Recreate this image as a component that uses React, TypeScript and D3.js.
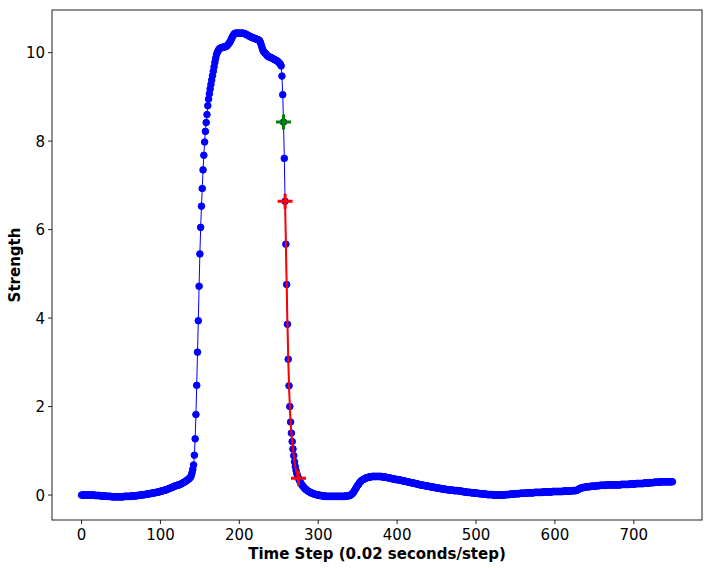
import * as d3 from 'd3'

// Strength per time step (0.02 s/step), one value per step from 0 to 749
const strength: number[] = [
  // 0
  0.00, 0.00, 0.00, 0.00, 0.00, 0.00, 0.00, 0.00, 0.00, 0.00,
  0.00, 0.00, 0.00, 0.00, 0.00, 0.00, 0.00, -0.01, -0.01, -0.01,
  -0.01, -0.01, -0.01, -0.01, -0.02, -0.02, -0.02, -0.02, -0.02, -0.02,
  -0.02, -0.03, -0.03, -0.03, -0.03, -0.03, -0.03, -0.03, -0.04, -0.04,
  -0.04, -0.04, -0.04, -0.04, -0.04, -0.04, -0.04, -0.04, -0.04, -0.04,
  // 50
  -0.04, -0.04, -0.04, -0.04, -0.03, -0.03, -0.03, -0.03, -0.03, -0.03,
  -0.03, -0.03, -0.03, -0.02, -0.02, -0.02, -0.02, -0.02, -0.02, -0.02,
  -0.01, -0.01, -0.01, -0.01, 0.00, 0.00, 0.00, 0.00, 0.01, 0.01,
  0.01, 0.01, 0.02, 0.02, 0.02, 0.03, 0.03, 0.03, 0.04, 0.04,
  0.04, 0.05, 0.05, 0.05, 0.06, 0.06, 0.06, 0.07, 0.07, 0.08,
  // 100
  0.08, 0.09, 0.09, 0.10, 0.10, 0.11, 0.11, 0.12, 0.12, 0.13,
  0.14, 0.15, 0.15, 0.16, 0.17, 0.18, 0.18, 0.19, 0.20, 0.21,
  0.21, 0.22, 0.22, 0.23, 0.23, 0.24, 0.25, 0.26, 0.27, 0.28,
  0.29, 0.30, 0.31, 0.32, 0.34, 0.35, 0.37, 0.38, 0.40, 0.44,
  0.50, 0.58, 0.68, 0.90, 1.27, 1.82, 2.48, 3.23, 3.94, 4.72,
  // 150
  5.45, 6.05, 6.53, 6.93, 7.35, 7.68, 7.98, 8.22, 8.42, 8.60,
  8.80, 8.95, 9.07, 9.18, 9.28, 9.38, 9.48, 9.58, 9.68, 9.78,
  9.87, 9.95, 10.00, 10.04, 10.07, 10.09, 10.10, 10.11, 10.12, 10.12,
  10.12, 10.13, 10.13, 10.14, 10.15, 10.17, 10.19, 10.21, 10.24, 10.27,
  10.31, 10.35, 10.38, 10.41, 10.43, 10.44, 10.44, 10.44, 10.44, 10.44,
  // 200
  10.44, 10.44, 10.44, 10.44, 10.44, 10.44, 10.43, 10.43, 10.42, 10.41,
  10.40, 10.39, 10.38, 10.37, 10.36, 10.35, 10.35, 10.34, 10.33, 10.32,
  10.32, 10.31, 10.30, 10.30, 10.29, 10.28, 10.26, 10.22, 10.16, 10.10,
  10.05, 10.02, 10.00, 9.98, 9.96, 9.94, 9.92, 9.91, 9.90, 9.90,
  9.89, 9.88, 9.87, 9.86, 9.85, 9.84, 9.83, 9.82, 9.81, 9.80,
  // 250
  9.78, 9.76, 9.74, 9.70, 9.47, 9.05, 8.43, 7.61, 6.64, 5.67,
  4.76, 3.86, 3.07, 2.47, 2.00, 1.65, 1.40, 1.21, 1.04, 0.89,
  0.75, 0.64, 0.55, 0.48, 0.42, 0.38, 0.34, 0.30, 0.27, 0.24,
  0.21, 0.19, 0.17, 0.15, 0.13, 0.12, 0.10, 0.09, 0.08, 0.07,
  0.06, 0.05, 0.04, 0.04, 0.03, 0.02, 0.02, 0.01, 0.01, 0.00,
  // 300
  0.00, 0.00, -0.01, -0.01, -0.01, -0.02, -0.02, -0.02, -0.02, -0.03,
  -0.03, -0.03, -0.03, -0.03, -0.03, -0.03, -0.03, -0.03, -0.03, -0.03,
  -0.03, -0.03, -0.03, -0.03, -0.03, -0.03, -0.03, -0.03, -0.03, -0.03,
  -0.03, -0.03, -0.03, -0.03, -0.03, -0.02, -0.02, -0.02, -0.02, -0.01,
  -0.01, 0.00, 0.01, 0.03, 0.05, 0.07, 0.10, 0.13, 0.16, 0.19,
  // 350
  0.22, 0.24, 0.27, 0.29, 0.31, 0.33, 0.34, 0.35, 0.36, 0.37,
  0.38, 0.39, 0.39, 0.40, 0.40, 0.41, 0.41, 0.41, 0.42, 0.42,
  0.42, 0.42, 0.42, 0.42, 0.42, 0.42, 0.42, 0.42, 0.42, 0.42,
  0.42, 0.41, 0.41, 0.41, 0.41, 0.40, 0.40, 0.40, 0.39, 0.39,
  0.39, 0.38, 0.38, 0.37, 0.37, 0.37, 0.36, 0.36, 0.35, 0.35,
  // 400
  0.35, 0.35, 0.34, 0.34, 0.34, 0.33, 0.33, 0.32, 0.32, 0.32,
  0.31, 0.31, 0.30, 0.30, 0.30, 0.29, 0.29, 0.28, 0.28, 0.28,
  0.27, 0.27, 0.26, 0.26, 0.26, 0.25, 0.25, 0.24, 0.24, 0.23,
  0.23, 0.23, 0.22, 0.22, 0.22, 0.21, 0.21, 0.21, 0.20, 0.20,
  0.20, 0.19, 0.19, 0.19, 0.18, 0.18, 0.18, 0.17, 0.17, 0.17,
  // 450
  0.16, 0.16, 0.16, 0.15, 0.15, 0.15, 0.14, 0.14, 0.14, 0.13,
  0.13, 0.13, 0.13, 0.12, 0.12, 0.12, 0.12, 0.11, 0.11, 0.11,
  0.11, 0.11, 0.10, 0.10, 0.10, 0.10, 0.10, 0.10, 0.10, 0.09,
  0.09, 0.09, 0.08, 0.08, 0.08, 0.07, 0.07, 0.07, 0.07, 0.06,
  0.06, 0.06, 0.06, 0.06, 0.05, 0.05, 0.05, 0.05, 0.05, 0.05,
  // 500
  0.04, 0.04, 0.04, 0.04, 0.03, 0.03, 0.03, 0.03, 0.03, 0.02,
  0.02, 0.02, 0.02, 0.02, 0.01, 0.01, 0.01, 0.01, 0.01, 0.01,
  0.01, 0.01, 0.00, 0.00, 0.00, 0.00, 0.00, 0.00, 0.00, 0.00,
  0.00, 0.00, 0.00, 0.00, 0.00, 0.00, 0.00, 0.01, 0.01, 0.01,
  0.01, 0.01, 0.01, 0.02, 0.02, 0.02, 0.02, 0.02, 0.02, 0.03,
  // 550
  0.03, 0.03, 0.03, 0.03, 0.03, 0.03, 0.04, 0.04, 0.04, 0.04,
  0.04, 0.04, 0.04, 0.04, 0.04, 0.05, 0.05, 0.05, 0.05, 0.05,
  0.05, 0.05, 0.05, 0.05, 0.06, 0.06, 0.06, 0.06, 0.06, 0.06,
  0.06, 0.06, 0.06, 0.06, 0.06, 0.07, 0.07, 0.07, 0.07, 0.07,
  0.07, 0.07, 0.07, 0.07, 0.07, 0.07, 0.07, 0.08, 0.08, 0.08,
  // 600
  0.08, 0.08, 0.08, 0.08, 0.08, 0.08, 0.08, 0.08, 0.08, 0.08,
  0.08, 0.09, 0.09, 0.09, 0.09, 0.09, 0.09, 0.09, 0.09, 0.09,
  0.09, 0.09, 0.10, 0.10, 0.10, 0.10, 0.10, 0.10, 0.11, 0.12,
  0.13, 0.14, 0.15, 0.16, 0.16, 0.17, 0.17, 0.17, 0.18, 0.18,
  0.18, 0.19, 0.19, 0.19, 0.19, 0.19, 0.20, 0.20, 0.20, 0.20,
  // 650
  0.20, 0.20, 0.21, 0.21, 0.21, 0.21, 0.21, 0.22, 0.22, 0.22,
  0.22, 0.22, 0.22, 0.22, 0.22, 0.22, 0.23, 0.23, 0.23, 0.23,
  0.23, 0.23, 0.23, 0.23, 0.23, 0.23, 0.23, 0.23, 0.23, 0.23,
  0.23, 0.23, 0.23, 0.23, 0.24, 0.24, 0.24, 0.24, 0.24, 0.24,
  0.24, 0.24, 0.24, 0.24, 0.24, 0.25, 0.25, 0.25, 0.25, 0.25,
  // 700
  0.25, 0.25, 0.25, 0.26, 0.26, 0.26, 0.26, 0.26, 0.26, 0.26,
  0.26, 0.26, 0.26, 0.27, 0.27, 0.27, 0.27, 0.27, 0.27, 0.27,
  0.28, 0.28, 0.28, 0.28, 0.28, 0.28, 0.29, 0.29, 0.29, 0.29,
  0.29, 0.29, 0.29, 0.29, 0.30, 0.30, 0.30, 0.30, 0.30, 0.30,
  0.30, 0.30, 0.30, 0.30, 0.30, 0.30, 0.30, 0.30, 0.30, 0.30,
]

// marked steps
const greenSteps = [256]
const redSteps = [258, 275] // start and end of the red segment

const xTicks = [0, 100, 200, 300, 400, 500, 600, 700]
const yTicks = [0, 2, 4, 6, 8, 10]

const W = 712
const H = 568
const plot = { left: 52, right: 702, top: 10, bottom: 520 }
const font = '"DejaVu Sans", sans-serif'

export default function App() {
  const steps = d3.range(strength.length)

  // matplotlib style 5% margins
  const [x0, x1] = d3.extent(steps) as [number, number]
  const [y0, y1] = d3.extent(strength) as [number, number]
  const xPad = (x1 - x0) * 0.05
  const yPad = (y1 - y0) * 0.05

  const x = d3.scaleLinear().domain([x0 - xPad, x1 + xPad]).range([plot.left, plot.right])
  const y = d3.scaleLinear().domain([y0 - yPad, y1 + yPad]).range([plot.bottom, plot.top])

  const line = d3
    .line<number>()
    .x((i) => x(i))
    .y((i) => y(strength[i]))

  const redIdx = d3.range(redSteps[0], redSteps[1] + 1)

  const plus = (i: number, color: string) => {
    const cx = x(i)
    const cy = y(strength[i])
    const s = 7.5
    return (
      <path
        key={`${color}-${i}`}
        d={`M${cx - s},${cy}H${cx + s}M${cx},${cy - s}V${cy + s}`}
        stroke={color}
        strokeWidth={3}
        fill="none"
      />
    )
  }

  return (
    <svg
      width={W}
      height={H}
      style={{ position: 'absolute', left: 0, top: 0, background: '#fff' }}
      fontFamily={font}
    >
      <defs>
        <clipPath id="plotClip">
          <rect x={plot.left} y={plot.top} width={plot.right - plot.left} height={plot.bottom - plot.top} />
        </clipPath>
      </defs>

      <g clipPath="url(#plotClip)">
        <path d={line(steps) ?? ''} fill="none" stroke="#0000ff" strokeWidth={1} />
        {steps.map((i) => (
          <circle key={i} cx={x(i)} cy={y(strength[i])} r={3.3} fill="#0000ff" stroke="#0000ff" strokeWidth={1} />
        ))}
        <path d={line(redIdx) ?? ''} fill="none" stroke="#ff0000" strokeWidth={2} />
        {greenSteps.map((i) => plus(i, '#008000'))}
        {redSteps.map((i) => plus(i, '#ff0000'))}
      </g>

      {/* frame */}
      <rect
        x={plot.left}
        y={plot.top}
        width={plot.right - plot.left}
        height={plot.bottom - plot.top}
        fill="none"
        stroke="#222"
        strokeWidth={1}
      />

      {/* x axis */}
      {xTicks.map((t) => (
        <g key={t} transform={`translate(${x(t)},${plot.bottom})`}>
          <line y2={4} stroke="#222" />
          <text y={19.5} textAnchor="middle" fontSize={15} fill="#000">
            {t}
          </text>
        </g>
      ))}

      {/* y axis */}
      {yTicks.map((t) => (
        <g key={t} transform={`translate(${plot.left},${y(t)})`}>
          <line x2={-4} stroke="#222" />
          <text x={-7} y={5.5} textAnchor="end" fontSize={15} fill="#000">
            {t}
          </text>
        </g>
      ))}

      <text
        x={(plot.left + plot.right) / 2}
        y={559}
        textAnchor="middle"
        fontSize={15}
        fontWeight="bold"
        fill="#000"
      >
        Time Step (0.02 seconds/step)
      </text>
      <text
        transform={`translate(20,${(plot.top + plot.bottom) / 2}) rotate(-90)`}
        textAnchor="middle"
        fontSize={15}
        fontWeight="bold"
        fill="#000"
      >
        Strength
      </text>
    </svg>
  )
}
